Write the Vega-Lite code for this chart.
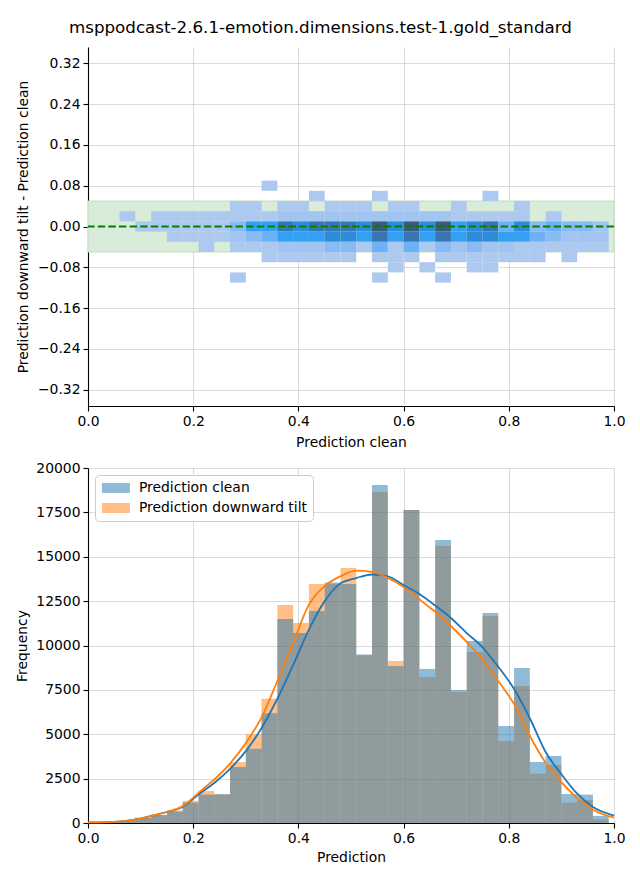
{
  "$schema": "https://vega.github.io/schema/vega-lite/v6.json",
  "background": "white",
  "padding": {"left": 15, "top": 20, "right": 20, "bottom": 6},
  "title": {"text": "msppodcast-2.6.1-emotion.dimensions.test-1.gold_standard", "font": "DejaVu Sans", "fontSize": 16.7, "fontWeight": "normal", "color": "black", "anchor": "middle", "offset": 10},
  "config": {
    "font": "DejaVu Sans",
    "view": {"stroke": null},
    "axis": {"labelFont": "DejaVu Sans", "titleFont": "DejaVu Sans", "labelFontSize": 13.9, "titleFontSize": 13.9, "titleFontWeight": "normal", "labelColor": "black", "titleColor": "black", "domainColor": "black", "tickColor": "black", "tickSize": 5, "labelPadding": 3, "labelFlush": false, "domainWidth": 1.1, "tickWidth": 1.1, "gridColor": "#b0b0b0", "gridOpacity": 0.45, "gridWidth": 1, "zindex": 1},
    "legend": {"orient": "top-left", "offset": 7, "fillColor": "white", "strokeColor": "#cccccc", "cornerRadius": 4, "padding": 6, "labelFont": "DejaVu Sans", "labelFontSize": 13.9, "labelColor": "black", "labelLimit": 0, "symbolType": "M-2.8,-1H2.8V1H-2.8Z", "symbolSize": 100, "symbolOpacity": 0.5, "symbolStrokeWidth": 0, "symbolOffset": 8, "labelOffset": 16, "rowPadding": 5}
  },
  "vconcat": [
    {
      "width": 526,
      "height": 359,
      "layer": [
        {
          "data": {"values": [{"a": 0, "b": 1, "c": -0.05, "d": 0.05}]},
          "mark": {"type": "rect", "color": "#d9ecd9", "stroke": "#bfdfbf", "strokeWidth": 1},
          "encoding": {
            "x": {"field": "a", "type": "quantitative", "scale": {"domain": [0, 1], "nice": false, "zero": false}, "axis": {"values": [0, 0.2, 0.4, 0.6, 0.8, 1.0], "format": ".1f", "title": "Prediction clean", "titlePadding": 8}},
            "x2": {"field": "b"},
            "y": {"field": "c", "type": "quantitative", "scale": {"domain": [-0.352, 0.352], "nice": false, "zero": false}, "axis": {"values": [-0.32, -0.24, -0.16, -0.08, 0, 0.08, 0.16, 0.24, 0.32], "format": ".2f", "title": "Prediction downward tilt - Prediction clean", "titlePadding": 7}},
            "y2": {"field": "d"}
          }
        },
        {
          "data": {"values": [
            {"a":0.06,"b":0.09,"c":0.01,"d":0.03,"n":40},
            {"a":0.09,"b":0.12,"c":-0.01,"d":0.01,"n":40},
            {"a":0.12,"b":0.15,"c":0.01,"d":0.03,"n":40},
            {"a":0.12,"b":0.15,"c":-0.01,"d":0.01,"n":40},
            {"a":0.15,"b":0.18,"c":0.01,"d":0.03,"n":40},
            {"a":0.15,"b":0.18,"c":-0.01,"d":0.01,"n":40},
            {"a":0.15,"b":0.18,"c":-0.03,"d":-0.01,"n":40},
            {"a":0.18,"b":0.21,"c":0.01,"d":0.03,"n":40},
            {"a":0.18,"b":0.21,"c":-0.01,"d":0.01,"n":40},
            {"a":0.18,"b":0.21,"c":-0.03,"d":-0.01,"n":40},
            {"a":0.21,"b":0.24,"c":0.01,"d":0.03,"n":40},
            {"a":0.21,"b":0.24,"c":-0.01,"d":0.01,"n":40},
            {"a":0.21,"b":0.24,"c":-0.03,"d":-0.01,"n":40},
            {"a":0.21,"b":0.24,"c":-0.05,"d":-0.03,"n":40},
            {"a":0.24,"b":0.27,"c":0.01,"d":0.03,"n":40},
            {"a":0.24,"b":0.27,"c":-0.01,"d":0.01,"n":40},
            {"a":0.24,"b":0.27,"c":-0.03,"d":-0.01,"n":40},
            {"a":0.27,"b":0.30,"c":0.03,"d":0.05,"n":40},
            {"a":0.27,"b":0.30,"c":0.01,"d":0.03,"n":40},
            {"a":0.27,"b":0.30,"c":-0.01,"d":0.01,"n":1200},
            {"a":0.27,"b":0.30,"c":-0.03,"d":-0.01,"n":300},
            {"a":0.27,"b":0.30,"c":-0.05,"d":-0.03,"n":40},
            {"a":0.27,"b":0.30,"c":-0.11,"d":-0.09,"n":40},
            {"a":0.30,"b":0.33,"c":0.03,"d":0.05,"n":40},
            {"a":0.30,"b":0.33,"c":0.01,"d":0.03,"n":40},
            {"a":0.30,"b":0.33,"c":-0.01,"d":0.01,"n":5000},
            {"a":0.30,"b":0.33,"c":-0.03,"d":-0.01,"n":1200},
            {"a":0.30,"b":0.33,"c":-0.05,"d":-0.03,"n":40},
            {"a":0.33,"b":0.36,"c":0.07,"d":0.09,"n":40},
            {"a":0.33,"b":0.36,"c":0.01,"d":0.03,"n":40},
            {"a":0.33,"b":0.36,"c":-0.01,"d":0.01,"n":5000},
            {"a":0.33,"b":0.36,"c":-0.03,"d":-0.01,"n":2500},
            {"a":0.33,"b":0.36,"c":-0.05,"d":-0.03,"n":40},
            {"a":0.33,"b":0.36,"c":-0.07,"d":-0.05,"n":40},
            {"a":0.36,"b":0.39,"c":0.03,"d":0.05,"n":40},
            {"a":0.36,"b":0.39,"c":0.01,"d":0.03,"n":300},
            {"a":0.36,"b":0.39,"c":-0.01,"d":0.01,"n":9000},
            {"a":0.36,"b":0.39,"c":-0.03,"d":-0.01,"n":5000},
            {"a":0.36,"b":0.39,"c":-0.05,"d":-0.03,"n":300},
            {"a":0.36,"b":0.39,"c":-0.07,"d":-0.05,"n":40},
            {"a":0.39,"b":0.42,"c":0.03,"d":0.05,"n":40},
            {"a":0.39,"b":0.42,"c":0.01,"d":0.03,"n":300},
            {"a":0.39,"b":0.42,"c":-0.01,"d":0.01,"n":7000},
            {"a":0.39,"b":0.42,"c":-0.03,"d":-0.01,"n":5000},
            {"a":0.39,"b":0.42,"c":-0.05,"d":-0.03,"n":300},
            {"a":0.39,"b":0.42,"c":-0.07,"d":-0.05,"n":40},
            {"a":0.42,"b":0.45,"c":0.05,"d":0.07,"n":40},
            {"a":0.42,"b":0.45,"c":0.01,"d":0.03,"n":300},
            {"a":0.42,"b":0.45,"c":-0.01,"d":0.01,"n":9000},
            {"a":0.42,"b":0.45,"c":-0.03,"d":-0.01,"n":5000},
            {"a":0.42,"b":0.45,"c":-0.05,"d":-0.03,"n":300},
            {"a":0.42,"b":0.45,"c":-0.07,"d":-0.05,"n":40},
            {"a":0.45,"b":0.48,"c":0.03,"d":0.05,"n":40},
            {"a":0.45,"b":0.48,"c":0.01,"d":0.03,"n":300},
            {"a":0.45,"b":0.48,"c":-0.01,"d":0.01,"n":9000},
            {"a":0.45,"b":0.48,"c":-0.03,"d":-0.01,"n":7000},
            {"a":0.45,"b":0.48,"c":-0.05,"d":-0.03,"n":1200},
            {"a":0.45,"b":0.48,"c":-0.07,"d":-0.05,"n":40},
            {"a":0.48,"b":0.51,"c":0.03,"d":0.05,"n":40},
            {"a":0.48,"b":0.51,"c":0.01,"d":0.03,"n":300},
            {"a":0.48,"b":0.51,"c":-0.01,"d":0.01,"n":9000},
            {"a":0.48,"b":0.51,"c":-0.03,"d":-0.01,"n":7000},
            {"a":0.48,"b":0.51,"c":-0.05,"d":-0.03,"n":1200},
            {"a":0.48,"b":0.51,"c":-0.07,"d":-0.05,"n":40},
            {"a":0.51,"b":0.54,"c":0.03,"d":0.05,"n":40},
            {"a":0.51,"b":0.54,"c":0.01,"d":0.03,"n":300},
            {"a":0.51,"b":0.54,"c":-0.01,"d":0.01,"n":7000},
            {"a":0.51,"b":0.54,"c":-0.03,"d":-0.01,"n":5000},
            {"a":0.51,"b":0.54,"c":-0.05,"d":-0.03,"n":40},
            {"a":0.54,"b":0.57,"c":0.05,"d":0.07,"n":40},
            {"a":0.54,"b":0.57,"c":0.01,"d":0.03,"n":300},
            {"a":0.54,"b":0.57,"c":-0.01,"d":0.01,"n":11000},
            {"a":0.54,"b":0.57,"c":-0.03,"d":-0.01,"n":9000},
            {"a":0.54,"b":0.57,"c":-0.05,"d":-0.03,"n":2500},
            {"a":0.54,"b":0.57,"c":-0.07,"d":-0.05,"n":40},
            {"a":0.54,"b":0.57,"c":-0.11,"d":-0.09,"n":40},
            {"a":0.57,"b":0.60,"c":0.03,"d":0.05,"n":40},
            {"a":0.57,"b":0.60,"c":0.01,"d":0.03,"n":300},
            {"a":0.57,"b":0.60,"c":-0.01,"d":0.01,"n":7000},
            {"a":0.57,"b":0.60,"c":-0.03,"d":-0.01,"n":5000},
            {"a":0.57,"b":0.60,"c":-0.05,"d":-0.03,"n":40},
            {"a":0.57,"b":0.60,"c":-0.07,"d":-0.05,"n":40},
            {"a":0.57,"b":0.60,"c":-0.09,"d":-0.07,"n":40},
            {"a":0.60,"b":0.63,"c":0.03,"d":0.05,"n":40},
            {"a":0.60,"b":0.63,"c":0.01,"d":0.03,"n":300},
            {"a":0.60,"b":0.63,"c":-0.01,"d":0.01,"n":11000},
            {"a":0.60,"b":0.63,"c":-0.03,"d":-0.01,"n":9000},
            {"a":0.60,"b":0.63,"c":-0.05,"d":-0.03,"n":2500},
            {"a":0.60,"b":0.63,"c":-0.07,"d":-0.05,"n":40},
            {"a":0.63,"b":0.66,"c":0.01,"d":0.03,"n":300},
            {"a":0.63,"b":0.66,"c":-0.01,"d":0.01,"n":7000},
            {"a":0.63,"b":0.66,"c":-0.03,"d":-0.01,"n":5000},
            {"a":0.63,"b":0.66,"c":-0.05,"d":-0.03,"n":40},
            {"a":0.63,"b":0.66,"c":-0.09,"d":-0.07,"n":40},
            {"a":0.66,"b":0.69,"c":0.01,"d":0.03,"n":300},
            {"a":0.66,"b":0.69,"c":-0.01,"d":0.01,"n":11000},
            {"a":0.66,"b":0.69,"c":-0.03,"d":-0.01,"n":9000},
            {"a":0.66,"b":0.69,"c":-0.05,"d":-0.03,"n":1200},
            {"a":0.66,"b":0.69,"c":-0.07,"d":-0.05,"n":40},
            {"a":0.66,"b":0.69,"c":-0.11,"d":-0.09,"n":40},
            {"a":0.69,"b":0.72,"c":0.03,"d":0.05,"n":40},
            {"a":0.69,"b":0.72,"c":0.01,"d":0.03,"n":40},
            {"a":0.69,"b":0.72,"c":-0.01,"d":0.01,"n":5000},
            {"a":0.69,"b":0.72,"c":-0.03,"d":-0.01,"n":5000},
            {"a":0.69,"b":0.72,"c":-0.05,"d":-0.03,"n":300},
            {"a":0.69,"b":0.72,"c":-0.07,"d":-0.05,"n":40},
            {"a":0.72,"b":0.75,"c":0.01,"d":0.03,"n":40},
            {"a":0.72,"b":0.75,"c":-0.01,"d":0.01,"n":7000},
            {"a":0.72,"b":0.75,"c":-0.03,"d":-0.01,"n":7000},
            {"a":0.72,"b":0.75,"c":-0.05,"d":-0.03,"n":1200},
            {"a":0.72,"b":0.75,"c":-0.07,"d":-0.05,"n":40},
            {"a":0.72,"b":0.75,"c":-0.09,"d":-0.07,"n":40},
            {"a":0.75,"b":0.78,"c":0.05,"d":0.07,"n":40},
            {"a":0.75,"b":0.78,"c":0.01,"d":0.03,"n":40},
            {"a":0.75,"b":0.78,"c":-0.01,"d":0.01,"n":9000},
            {"a":0.75,"b":0.78,"c":-0.03,"d":-0.01,"n":7000},
            {"a":0.75,"b":0.78,"c":-0.05,"d":-0.03,"n":300},
            {"a":0.75,"b":0.78,"c":-0.07,"d":-0.05,"n":40},
            {"a":0.75,"b":0.78,"c":-0.09,"d":-0.07,"n":40},
            {"a":0.78,"b":0.81,"c":0.01,"d":0.03,"n":40},
            {"a":0.78,"b":0.81,"c":-0.01,"d":0.01,"n":2500},
            {"a":0.78,"b":0.81,"c":-0.03,"d":-0.01,"n":5000},
            {"a":0.78,"b":0.81,"c":-0.05,"d":-0.03,"n":300},
            {"a":0.78,"b":0.81,"c":-0.07,"d":-0.05,"n":40},
            {"a":0.81,"b":0.84,"c":0.03,"d":0.05,"n":40},
            {"a":0.81,"b":0.84,"c":0.01,"d":0.03,"n":40},
            {"a":0.81,"b":0.84,"c":-0.01,"d":0.01,"n":7000},
            {"a":0.81,"b":0.84,"c":-0.03,"d":-0.01,"n":5000},
            {"a":0.81,"b":0.84,"c":-0.05,"d":-0.03,"n":40},
            {"a":0.81,"b":0.84,"c":-0.07,"d":-0.05,"n":40},
            {"a":0.84,"b":0.87,"c":-0.01,"d":0.01,"n":1200},
            {"a":0.84,"b":0.87,"c":-0.03,"d":-0.01,"n":2500},
            {"a":0.84,"b":0.87,"c":-0.05,"d":-0.03,"n":40},
            {"a":0.84,"b":0.87,"c":-0.07,"d":-0.05,"n":40},
            {"a":0.87,"b":0.90,"c":0.01,"d":0.03,"n":40},
            {"a":0.87,"b":0.90,"c":-0.01,"d":0.01,"n":2500},
            {"a":0.87,"b":0.90,"c":-0.03,"d":-0.01,"n":1200},
            {"a":0.87,"b":0.90,"c":-0.05,"d":-0.03,"n":40},
            {"a":0.90,"b":0.93,"c":-0.01,"d":0.01,"n":1200},
            {"a":0.90,"b":0.93,"c":-0.03,"d":-0.01,"n":300},
            {"a":0.90,"b":0.93,"c":-0.05,"d":-0.03,"n":40},
            {"a":0.90,"b":0.93,"c":-0.07,"d":-0.05,"n":40},
            {"a":0.93,"b":0.96,"c":-0.01,"d":0.01,"n":1200},
            {"a":0.93,"b":0.96,"c":-0.03,"d":-0.01,"n":300},
            {"a":0.93,"b":0.96,"c":-0.05,"d":-0.03,"n":40},
            {"a":0.96,"b":0.99,"c":-0.01,"d":0.01,"n":300},
            {"a":0.96,"b":0.99,"c":-0.03,"d":-0.01,"n":300},
            {"a":0.96,"b":0.99,"c":-0.05,"d":-0.03,"n":40}
          ]},
          "mark": {"type": "rect"},
          "encoding": {
            "x": {"field": "a", "type": "quantitative"},
            "x2": {"field": "b"},
            "y": {"field": "c", "type": "quantitative"},
            "y2": {"field": "d"},
            "color": {"field": "n", "type": "quantitative", "legend": null, "scale": {"type": "linear", "domain": [40, 300, 1200, 2500, 5000, 7000, 9000, 11000], "range": ["#adc9ef", "#a1c4f1", "#88bbf3", "#6cb0f5", "#33a0f4", "#2d8bd8", "#3776b0", "#3c5a7c"]}}
          }
        },
        {
          "data": {"values": [{"zero": 0}]},
          "mark": {"type": "rule", "color": "#008000", "strokeDash": [7.4, 3.2], "strokeWidth": 2},
          "encoding": {"y": {"field": "zero", "type": "quantitative"}}
        }
      ]
    },
    {
      "width": 526,
      "height": 355,
      "layer": [
        {
          "data": {"values": [
            {"a":0.00,"b":0.03,"s":"Prediction downward tilt","n":40},
            {"a":0.03,"b":0.06,"s":"Prediction downward tilt","n":60},
            {"a":0.06,"b":0.09,"s":"Prediction downward tilt","n":120},
            {"a":0.09,"b":0.12,"s":"Prediction downward tilt","n":280},
            {"a":0.12,"b":0.15,"s":"Prediction downward tilt","n":450},
            {"a":0.15,"b":0.18,"s":"Prediction downward tilt","n":700},
            {"a":0.18,"b":0.21,"s":"Prediction downward tilt","n":1250},
            {"a":0.21,"b":0.24,"s":"Prediction downward tilt","n":1800},
            {"a":0.24,"b":0.27,"s":"Prediction downward tilt","n":1620},
            {"a":0.27,"b":0.30,"s":"Prediction downward tilt","n":3430},
            {"a":0.30,"b":0.33,"s":"Prediction downward tilt","n":5000},
            {"a":0.33,"b":0.36,"s":"Prediction downward tilt","n":7000},
            {"a":0.36,"b":0.39,"s":"Prediction downward tilt","n":12280},
            {"a":0.39,"b":0.42,"s":"Prediction downward tilt","n":11270},
            {"a":0.42,"b":0.45,"s":"Prediction downward tilt","n":13460},
            {"a":0.45,"b":0.48,"s":"Prediction downward tilt","n":13480},
            {"a":0.48,"b":0.51,"s":"Prediction downward tilt","n":14370},
            {"a":0.51,"b":0.54,"s":"Prediction downward tilt","n":9450},
            {"a":0.54,"b":0.57,"s":"Prediction downward tilt","n":18650},
            {"a":0.57,"b":0.60,"s":"Prediction downward tilt","n":9130},
            {"a":0.60,"b":0.63,"s":"Prediction downward tilt","n":17630},
            {"a":0.63,"b":0.66,"s":"Prediction downward tilt","n":8230},
            {"a":0.66,"b":0.69,"s":"Prediction downward tilt","n":15600},
            {"a":0.69,"b":0.72,"s":"Prediction downward tilt","n":7380},
            {"a":0.72,"b":0.75,"s":"Prediction downward tilt","n":9630},
            {"a":0.75,"b":0.78,"s":"Prediction downward tilt","n":11660},
            {"a":0.78,"b":0.81,"s":"Prediction downward tilt","n":4620},
            {"a":0.81,"b":0.84,"s":"Prediction downward tilt","n":7720},
            {"a":0.84,"b":0.87,"s":"Prediction downward tilt","n":2780},
            {"a":0.87,"b":0.90,"s":"Prediction downward tilt","n":3270},
            {"a":0.90,"b":0.93,"s":"Prediction downward tilt","n":1150},
            {"a":0.93,"b":0.96,"s":"Prediction downward tilt","n":1300},
            {"a":0.96,"b":0.99,"s":"Prediction downward tilt","n":200},
            {"a":0.00,"b":0.03,"s":"Prediction clean","n":40},
            {"a":0.03,"b":0.06,"s":"Prediction clean","n":60},
            {"a":0.06,"b":0.09,"s":"Prediction clean","n":120},
            {"a":0.09,"b":0.12,"s":"Prediction clean","n":300},
            {"a":0.12,"b":0.15,"s":"Prediction clean","n":450},
            {"a":0.15,"b":0.18,"s":"Prediction clean","n":650},
            {"a":0.18,"b":0.21,"s":"Prediction clean","n":1150},
            {"a":0.21,"b":0.24,"s":"Prediction clean","n":1600},
            {"a":0.24,"b":0.27,"s":"Prediction clean","n":1620},
            {"a":0.27,"b":0.30,"s":"Prediction clean","n":3150},
            {"a":0.30,"b":0.33,"s":"Prediction clean","n":4190},
            {"a":0.33,"b":0.36,"s":"Prediction clean","n":6180},
            {"a":0.36,"b":0.39,"s":"Prediction clean","n":11490},
            {"a":0.39,"b":0.42,"s":"Prediction clean","n":10700},
            {"a":0.42,"b":0.45,"s":"Prediction clean","n":11940},
            {"a":0.45,"b":0.48,"s":"Prediction clean","n":13550},
            {"a":0.48,"b":0.51,"s":"Prediction clean","n":13460},
            {"a":0.51,"b":0.54,"s":"Prediction clean","n":9500},
            {"a":0.54,"b":0.57,"s":"Prediction clean","n":19040},
            {"a":0.57,"b":0.60,"s":"Prediction clean","n":8850},
            {"a":0.60,"b":0.63,"s":"Prediction clean","n":17630},
            {"a":0.63,"b":0.66,"s":"Prediction clean","n":8680},
            {"a":0.66,"b":0.69,"s":"Prediction clean","n":15940},
            {"a":0.69,"b":0.72,"s":"Prediction clean","n":7490},
            {"a":0.72,"b":0.75,"s":"Prediction clean","n":10250},
            {"a":0.75,"b":0.78,"s":"Prediction clean","n":11830},
            {"a":0.78,"b":0.81,"s":"Prediction clean","n":5460},
            {"a":0.81,"b":0.84,"s":"Prediction clean","n":8730},
            {"a":0.84,"b":0.87,"s":"Prediction clean","n":3440},
            {"a":0.87,"b":0.90,"s":"Prediction clean","n":3770},
            {"a":0.90,"b":0.93,"s":"Prediction clean","n":1630},
            {"a":0.93,"b":0.96,"s":"Prediction clean","n":1600},
            {"a":0.96,"b":0.99,"s":"Prediction clean","n":400}
          ]},
          "mark": {"type": "rect", "opacity": 0.5},
          "encoding": {
            "x": {"field": "a", "type": "quantitative", "scale": {"domain": [0, 1], "nice": false, "zero": false}, "axis": {"values": [0, 0.2, 0.4, 0.6, 0.8, 1.0], "format": ".1f", "title": "Prediction", "titlePadding": 6}},
            "x2": {"field": "b"},
            "y": {"field": "n", "type": "quantitative", "scale": {"domain": [0, 20000], "nice": false}, "axis": {"values": [0, 2500, 5000, 7500, 10000, 12500, 15000, 17500, 20000], "format": "d", "title": "Frequency", "titlePadding": 6}},
            "y2": {"datum": 0},
            "color": {"field": "s", "type": "nominal", "scale": {"domain": ["Prediction clean", "Prediction downward tilt"], "range": ["#1f77b4", "#ff7f0e"]}, "legend": {"title": null}}
          }
        },
        {
          "data": {"values": [
            {"x":0.00,"s":"Prediction clean","v":30},
            {"x":0.05,"s":"Prediction clean","v":60},
            {"x":0.08,"s":"Prediction clean","v":150},
            {"x":0.10,"s":"Prediction clean","v":250},
            {"x":0.12,"s":"Prediction clean","v":400},
            {"x":0.15,"s":"Prediction clean","v":620},
            {"x":0.18,"s":"Prediction clean","v":900},
            {"x":0.21,"s":"Prediction clean","v":1600},
            {"x":0.24,"s":"Prediction clean","v":2250},
            {"x":0.27,"s":"Prediction clean","v":3050},
            {"x":0.30,"s":"Prediction clean","v":4050},
            {"x":0.33,"s":"Prediction clean","v":5350},
            {"x":0.36,"s":"Prediction clean","v":7000},
            {"x":0.39,"s":"Prediction clean","v":8900},
            {"x":0.42,"s":"Prediction clean","v":10900},
            {"x":0.45,"s":"Prediction clean","v":12500},
            {"x":0.48,"s":"Prediction clean","v":13500},
            {"x":0.51,"s":"Prediction clean","v":13800},
            {"x":0.54,"s":"Prediction clean","v":14000},
            {"x":0.57,"s":"Prediction clean","v":13900},
            {"x":0.60,"s":"Prediction clean","v":13400},
            {"x":0.63,"s":"Prediction clean","v":12900},
            {"x":0.66,"s":"Prediction clean","v":12250},
            {"x":0.69,"s":"Prediction clean","v":11550},
            {"x":0.72,"s":"Prediction clean","v":10700},
            {"x":0.75,"s":"Prediction clean","v":9900},
            {"x":0.78,"s":"Prediction clean","v":8800},
            {"x":0.81,"s":"Prediction clean","v":7550},
            {"x":0.84,"s":"Prediction clean","v":5900},
            {"x":0.87,"s":"Prediction clean","v":4000},
            {"x":0.90,"s":"Prediction clean","v":2750},
            {"x":0.93,"s":"Prediction clean","v":1650},
            {"x":0.96,"s":"Prediction clean","v":900},
            {"x":1.00,"s":"Prediction clean","v":420},
            {"x":0.00,"s":"Prediction downward tilt","v":30},
            {"x":0.05,"s":"Prediction downward tilt","v":60},
            {"x":0.08,"s":"Prediction downward tilt","v":150},
            {"x":0.10,"s":"Prediction downward tilt","v":250},
            {"x":0.12,"s":"Prediction downward tilt","v":400},
            {"x":0.15,"s":"Prediction downward tilt","v":620},
            {"x":0.18,"s":"Prediction downward tilt","v":950},
            {"x":0.21,"s":"Prediction downward tilt","v":1700},
            {"x":0.24,"s":"Prediction downward tilt","v":2450},
            {"x":0.27,"s":"Prediction downward tilt","v":3350},
            {"x":0.30,"s":"Prediction downward tilt","v":4500},
            {"x":0.33,"s":"Prediction downward tilt","v":5950},
            {"x":0.36,"s":"Prediction downward tilt","v":8000},
            {"x":0.39,"s":"Prediction downward tilt","v":10150},
            {"x":0.42,"s":"Prediction downward tilt","v":12300},
            {"x":0.45,"s":"Prediction downward tilt","v":13350},
            {"x":0.48,"s":"Prediction downward tilt","v":13900},
            {"x":0.51,"s":"Prediction downward tilt","v":14220},
            {"x":0.54,"s":"Prediction downward tilt","v":14150},
            {"x":0.57,"s":"Prediction downward tilt","v":13800},
            {"x":0.60,"s":"Prediction downward tilt","v":13300},
            {"x":0.63,"s":"Prediction downward tilt","v":12600},
            {"x":0.66,"s":"Prediction downward tilt","v":11900},
            {"x":0.69,"s":"Prediction downward tilt","v":11100},
            {"x":0.72,"s":"Prediction downward tilt","v":10200},
            {"x":0.75,"s":"Prediction downward tilt","v":9200},
            {"x":0.78,"s":"Prediction downward tilt","v":8000},
            {"x":0.81,"s":"Prediction downward tilt","v":6700},
            {"x":0.84,"s":"Prediction downward tilt","v":4900},
            {"x":0.87,"s":"Prediction downward tilt","v":3400},
            {"x":0.90,"s":"Prediction downward tilt","v":2300},
            {"x":0.93,"s":"Prediction downward tilt","v":1400},
            {"x":0.96,"s":"Prediction downward tilt","v":750},
            {"x":1.00,"s":"Prediction downward tilt","v":300}
          ]},
          "mark": {"type": "line", "strokeWidth": 1.8, "interpolate": "monotone"},
          "encoding": {
            "x": {"field": "x", "type": "quantitative"},
            "y": {"field": "v", "type": "quantitative"},
            "stroke": {"field": "s", "type": "nominal", "scale": {"domain": ["Prediction clean", "Prediction downward tilt"], "range": ["#1f77b4", "#ff7f0e"]}, "legend": null}
          }
        }
      ]
    }
  ],
  "spacing": 62,
  "bounds": "flush"
}
